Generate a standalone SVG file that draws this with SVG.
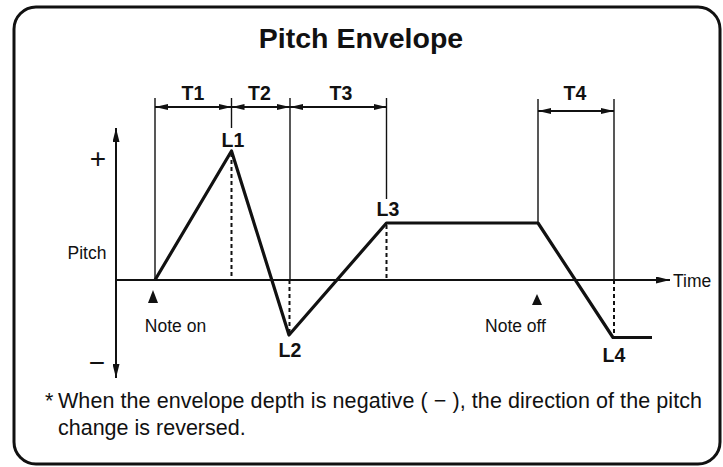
<svg xmlns="http://www.w3.org/2000/svg" width="723" height="467" viewBox="0 0 723 467">
<style>
.ttl{font-family:"Liberation Sans",Arial,Helvetica,sans-serif;font-weight:bold;font-size:28.5px;fill:#111}
.lbl{font-family:"Liberation Sans",Arial,Helvetica,sans-serif;font-weight:bold;font-size:19.5px;fill:#111}
.txt{font-family:"Liberation Sans",Arial,Helvetica,sans-serif;font-size:17.5px;fill:#111}
.sym{font-family:"Liberation Sans",Arial,Helvetica,sans-serif;font-size:28px;fill:#111}
.foot{font-family:"Liberation Sans",Arial,Helvetica,sans-serif;font-size:21.5px;fill:#111}
.thin{stroke:#111;stroke-width:1.4;fill:none}
.dim{stroke:#111;stroke-width:1.8;fill:none}
.dot{stroke:#111;stroke-width:2;stroke-dasharray:4 3;fill:none}
.axis{stroke:#111;stroke-width:2;fill:none}
.env{stroke:#111;stroke-width:3.2;fill:none;stroke-linejoin:round}
.tri{fill:#111}
</style>
<defs>
<marker id="ah" viewBox="0 0 13 6" refX="13" refY="3" markerWidth="13" markerHeight="6" markerUnits="userSpaceOnUse" orient="auto-start-reverse"><path d="M0,0 L13,3 L0,6 Z" fill="#111"/></marker>
<marker id="ax" viewBox="0 0 14 7" refX="14" refY="3.5" markerWidth="14" markerHeight="7" markerUnits="userSpaceOnUse" orient="auto-start-reverse"><path d="M0,0 L14,3.5 L0,7 Z" fill="#111"/></marker>
</defs>
<rect x="14" y="7" width="706" height="457" rx="22" ry="22" fill="#fff" stroke="#111" stroke-width="3"/>
<g id="title"><text class="ttl" x="361" y="48" text-anchor="middle">Pitch Envelope</text></g>

<g id="axes">
<path class="axis" d="M116,378 L116,128" marker-start="url(#ax)" marker-end="url(#ax)"/>
<path class="axis" d="M116,280 L670,280" marker-end="url(#ax)"/>
<text class="sym" x="98" y="168" text-anchor="middle">+</text>
<text class="sym" x="97" y="372" text-anchor="middle">−</text>
<text class="txt" x="87" y="259" text-anchor="middle">Pitch</text>
<text class="txt" x="673" y="287">Time</text>
</g>

<g id="connectors">
<line class="thin" x1="155" y1="98" x2="155" y2="280"/>
<line class="thin" x1="231.5" y1="98" x2="231.5" y2="128"/>
<line class="thin" x1="290" y1="98" x2="290" y2="280"/>
<line class="thin" x1="386.5" y1="98" x2="386.5" y2="199"/>
<line class="thin" x1="538" y1="99" x2="538" y2="223"/>
<line class="thin" x1="614" y1="99" x2="614" y2="280"/>
<line class="dot" x1="231.5" y1="153" x2="231.5" y2="280"/>
<line class="dot" x1="289.5" y1="280" x2="289.5" y2="334"/>
<line class="dot" x1="386.5" y1="225" x2="386.5" y2="280"/>
<line class="dot" x1="614" y1="280" x2="614" y2="337"/>
<path class="dim" d="M155,107 L231.5,107" marker-start="url(#ah)" marker-end="url(#ah)"/>
<path class="dim" d="M231.5,107 L290,107" marker-start="url(#ah)" marker-end="url(#ah)"/>
<path class="dim" d="M290,107 L386.5,107" marker-start="url(#ah)" marker-end="url(#ah)"/>
<path class="dim" d="M538,111 L614,111" marker-start="url(#ah)" marker-end="url(#ah)"/>
</g>

<g id="envelope">
<path class="env" d="M155,280 L231.5,151 L289,335 L386.5,223 L538,223 L613,337.5 L652,337.5"/>
</g>

<g id="time-labels">
<text class="lbl" x="193" y="100" text-anchor="middle">T1</text>
<text class="lbl" x="259.5" y="100" text-anchor="middle">T2</text>
<text class="lbl" x="341" y="100" text-anchor="middle">T3</text>
<text class="lbl" x="575" y="100" text-anchor="middle">T4</text>
</g>

<g id="level-labels">
<text class="lbl" x="233" y="147" text-anchor="middle">L1</text>
<text class="lbl" x="290" y="357" text-anchor="middle">L2</text>
<text class="lbl" x="388" y="216" text-anchor="middle">L3</text>
<text class="lbl" x="614" y="362" text-anchor="middle">L4</text>
</g>

<g id="note-on">
<polygon class="tri" points="153,290 148,303 158,303"/>
<text class="txt" x="175.5" y="332" text-anchor="middle">Note on</text>
</g>
<g id="note-off">
<polygon class="tri" points="537,294 532,305 542,305"/>
<text class="txt" x="515.5" y="332" text-anchor="middle">Note off</text>
</g>

<g id="footnote">
<text class="foot" x="45" y="408">*</text>
<text class="foot" x="58" y="408" textLength="644" lengthAdjust="spacing">When the envelope depth is negative ( − ), the direction of the pitch</text>
<text class="foot" x="58" y="435">change is reversed.</text>
</g>
</svg>
